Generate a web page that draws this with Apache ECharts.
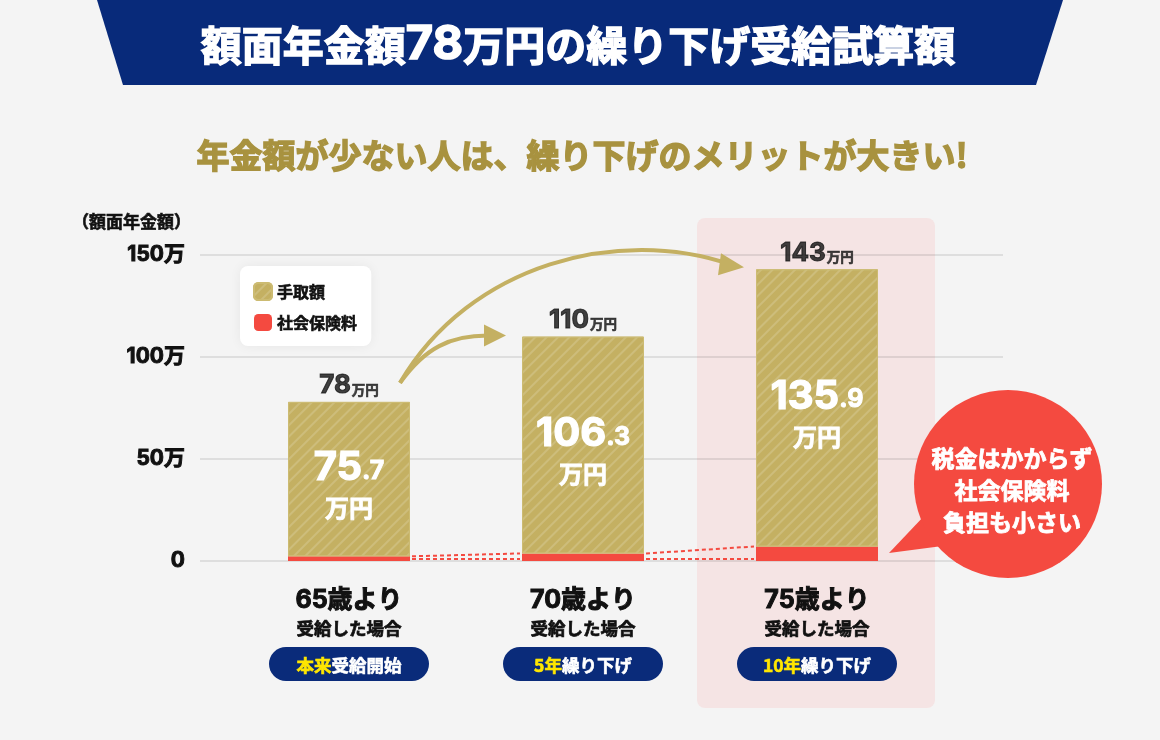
<!DOCTYPE html>
<html><head><meta charset="utf-8">
<script src="https://cdn.jsdelivr.net/npm/echarts@6/dist/echarts.min.js"></script>
<style>html,body{margin:0;padding:0;background:#f4f4f4}#c{width:1160px;height:740px}</style>
</head><body><div id="c"></div>
<script>
const categories = ['65歳より', '70歳より', '75歳より'];
const subLabels = ['受給した場合', '受給した場合', '受給した場合'];
const takeHome = [75.7, 106.3, 135.9];
const social = [2.3, 3.7, 7.1];
const totals = [78, 110, 143];
const pillHighlight = ['本来', '5年', '10年'];
const pillRest = ['受給開始', '繰り下げ', '繰り下げ'];
const seriesNames = ['手取額', '社会保険料'];

const NUM = "Inter, 'Noto Sans CJK JP', sans-serif";
const JP = "'Noto Sans CJK JP', sans-serif";
const GOLD = '#c4b062', RED = '#f44a40', NAVY = '#0a2b7a', INK = '#111';

const chart = echarts.init(document.getElementById('c'), null, {renderer: 'canvas'});

const option = {
  backgroundColor: '#f4f4f4',
  animation: false,
  grid: [
    {left: 200, right: 157, top: 255, bottom: 179},
    {left: 232, width: 702, top: 255, bottom: 179}
  ],
  legend: {
    data: seriesNames,
    orient: 'vertical',
    left: 240, top: 266,
    backgroundColor: '#ffffff',
    borderRadius: 8,
    padding: [16, 14, 15, 13],
    itemWidth: 18, itemHeight: 17, itemGap: 13,
    shadowBlur: 12, shadowColor: 'rgba(0,0,0,0.06)',
    textStyle: {fontFamily: JP, fontSize: 16, fontWeight: 'bold', color: INK, textBorderColor: INK, textBorderWidth: 0.6}
  },
  xAxis: [
    {type: 'value', gridIndex: 0, show: false, min: 0, max: 1},
    {type: 'category', gridIndex: 1, data: categories,
      axisLine: {show: false}, axisTick: {show: false},
      axisLabel: {
        margin: 24,
        formatter: (v, i) => '{a|' + v + '}\n{b|' + subLabels[i] + '}',
        rich: {
          a: {fontFamily: NUM, fontSize: 25, fontWeight: 'bold', color: INK, lineHeight: 30, textBorderColor: INK, textBorderWidth: 1},
          b: {fontFamily: JP, fontSize: 17.5, fontWeight: 'bold', color: INK, lineHeight: 26, textBorderColor: INK, textBorderWidth: 0.7}
        }
      }
    }
  ],
  yAxis: [
    {type: 'value', gridIndex: 0, min: 0, max: 150, interval: 50,
      axisLine: {show: false}, axisTick: {show: false},
      splitLine: {lineStyle: {color: 'rgba(0,0,0,0.09)', width: 2}},
      axisLabel: {margin: 15, fontFamily: NUM, fontSize: 21, fontWeight: 'bold', color: INK,
        textBorderColor: INK, textBorderWidth: 0.9,
        formatter: v => v === 0 ? '0' : v + '万'}
    },
    {type: 'value', gridIndex: 1, min: 0, max: 150, show: false}
  ],
  series: [
    {name: '社会保険料', type: 'bar', stack: 's', xAxisIndex: 1, yAxisIndex: 1,
      barWidth: 122, data: social, itemStyle: {color: RED}, z: 3},
    {name: '手取額', type: 'bar', stack: 's', xAxisIndex: 1, yAxisIndex: 1,
      barWidth: 122, data: takeHome, z: 3,
      itemStyle: {color: GOLD, borderColor: '#ccbb72', borderWidth: 1,
        decal: {symbol: 'rect', symbolSize: 1, color: 'rgba(255,255,255,0.16)',
          dashArrayX: [1, 0], dashArrayY: [2, 6], rotation: -Math.PI / 4}},
      label: {show: true, position: 'inside', offset: [0, 6],
        formatter: p => {
          const s = String(p.value).split('.');
          return '{n|' + s[0] + '}{d|.' + s[1] + '}\n{u|万円}';
        },
        rich: {
          n: {fontFamily: NUM, fontSize: 40, fontWeight: 'bold', color: '#fff', lineHeight: 46, textBorderColor: '#fff', textBorderWidth: 1.2},
          d: {fontFamily: NUM, fontSize: 25, fontWeight: 'bold', color: '#fff', lineHeight: 30, padding: [6, 0, 0, 0], verticalAlign: 'middle', textBorderColor: '#fff', textBorderWidth: 0.9},
          u: {fontFamily: JP, fontSize: 24, fontWeight: 'bold', color: '#fff', lineHeight: 34, textBorderColor: '#fff', textBorderWidth: 0.8}
        }
      }
    },
    {name: 'total', type: 'scatter', xAxisIndex: 1, yAxisIndex: 1, data: totals,
      symbolSize: 1, itemStyle: {color: 'rgba(0,0,0,0)'}, z: 4,
      label: {show: true, position: 'top', distance: 3,
        formatter: p => '{n|' + p.value + '}{u|万円}',
        rich: {
          n: {fontFamily: NUM, fontSize: 26, fontWeight: 'bold', color: INK, textBorderColor: INK, textBorderWidth: 1},
          u: {fontFamily: JP, fontSize: 13.5, fontWeight: 'bold', color: INK, padding: [8, 0, 0, 1], textBorderColor: INK, textBorderWidth: 0.6}
        }
      }
    }
  ]
};
chart.setOption(option);

// decorations anchored to the library's scales
const px = (i, v) => chart.convertToPixel({xAxisIndex: 1, yAxisIndex: 1}, [i, v]);
const half = 61;
const band = 234;
const g = [];

// header
g.push({type: 'polygon', shape: {points: [[97, 0], [1063, 0], [1036, 85], [123, 85]]}, style: {fill: '#082a7a'}, z: 10});
g.push({type: 'text', x: 578, y: 45, z: 11, style: {
  text: '{a|額面年金額}{b|78}{a|万円の繰り下げ受給試算額}', align: 'center', verticalAlign: 'middle',
  rich: {a: {fontFamily: JP, fontSize: 41, fontWeight: 'bold', fill: '#fff', stroke: '#fff', lineWidth: 1.4},
         b: {fontFamily: NUM, fontSize: 47, fontWeight: 'bold', fill: '#fff', stroke: '#fff', lineWidth: 1.6}}
}});
g.push({type: 'text', x: 582, y: 155, z: 11, style: {
  text: '年金額が少ない人は、繰り下げのメリットが大きい!', align: 'center', verticalAlign: 'middle',
  fontFamily: JP, fontSize: 33, fontWeight: 'bold', fill: '#a8923f', stroke: '#a8923f', lineWidth: 1.4
}});
g.push({type: 'text', x: 72, y: 222, z: 11, style: {
  text: '（額面年金額）', align: 'left', verticalAlign: 'middle',
  fontFamily: JP, fontSize: 17, fontWeight: 'bold', fill: INK, stroke: INK, lineWidth: 0.6
}});

// highlight column
const c3 = px(2, 0);
g.push({type: 'rect', shape: {x: c3[0] - band / 2 - 3, y: 218, width: band + 4, height: 490, r: 8},
  style: {fill: '#f5e4e4'}, z: -10});

// pills
for (let i = 0; i < categories.length; i++) {
  const c = px(i, 0);
  g.push({type: 'rect', shape: {x: c[0] - 80, y: 647, width: 160, height: 34, r: 17}, style: {fill: NAVY}, z: 10});
  g.push({type: 'text', x: c[0], y: 665, z: 11, style: {
    text: '{y|' + pillHighlight[i] + '}{w|' + pillRest[i] + '}', align: 'center', verticalAlign: 'middle',
    rich: {y: {fontFamily: JP, fontSize: 17.5, fontWeight: 'bold', fill: '#ffe600', stroke: '#ffe600', lineWidth: 0.6},
           w: {fontFamily: JP, fontSize: 17.5, fontWeight: 'bold', fill: '#fff', stroke: '#fff', lineWidth: 0.6}}
  }});
}

// red dashed connectors
for (let i = 0; i < categories.length - 1; i++) {
  const a = px(i, social[i]), b = px(i + 1, social[i + 1]);
  const a0 = px(i, 0), b0 = px(i + 1, 0);
  g.push({type: 'line', z: 5, shape: {x1: a[0] + half + 2, y1: a[1], x2: b[0] - half - 2, y2: b[1]},
    style: {stroke: RED, lineWidth: 2, lineDash: [4, 3]}});
  g.push({type: 'line', z: 5, shape: {x1: a0[0] + half + 2, y1: a0[1] - 2, x2: b0[0] - half - 2, y2: b0[1] - 2},
    style: {stroke: RED, lineWidth: 2, lineDash: [4, 3]}});
}

// arrows
const t1 = px(0, totals[0]), t2 = px(1, totals[1]), t3 = px(2, totals[2]);
const sx = t1[0] + 51, sy = t1[1] - 19;
const e1x = t2[0] - half - 24, e1y = t2[1] - 1;
const e2x = t3[0] - half - 16, e2y = t3[1] - 3;
g.push({type: 'bezierCurve', z: 6, shape: {x1: sx, y1: sy, x2: e1x - 10, y2: e1y, cpx1: sx + 25, cpy1: sy - 35, cpx2: sx + 50, cpy2: e1y},
  style: {stroke: GOLD, lineWidth: 4, fill: null}});
g.push({type: 'polygon', z: 6, shape: {points: [[e1x - 14, e1y - 11], [e1x + 8, e1y], [e1x - 14, e1y + 11]]}, style: {fill: GOLD}});
g.push({type: 'bezierCurve', z: 6, shape: {x1: sx, y1: sy, x2: e2x - 10, y2: e2y - 2, cpx1: sx + 70, cpy1: sy - 120, cpx2: sx + 220, cpy2: e2y - 40},
  style: {stroke: GOLD, lineWidth: 4, fill: null}});
g.push({type: 'polygon', z: 6, shape: {points: [[e2x - 19, e2y - 13], [e2x + 4, e2y + 1], [e2x - 22, e2y + 9]]}, style: {fill: GOLD}});

// speech bubble
g.push({type: 'polygon', z: 7, shape: {points: [[925, 515], [889, 553], [950, 545]]}, style: {fill: RED}});
g.push({type: 'circle', z: 7, shape: {cx: 1008, cy: 484, r: 94}, style: {fill: RED}});
g.push({type: 'text', x: 1012, y: 490, z: 8, style: {
  text: '税金はかからず\n社会保険料\n負担も小さい', align: 'center', verticalAlign: 'middle',
  fontFamily: JP, fontSize: 23, fontWeight: 'bold', fill: '#fff', stroke: '#fff', lineWidth: 0.8, lineHeight: 32
}});

chart.setOption({graphic: g});
</script></body></html>
